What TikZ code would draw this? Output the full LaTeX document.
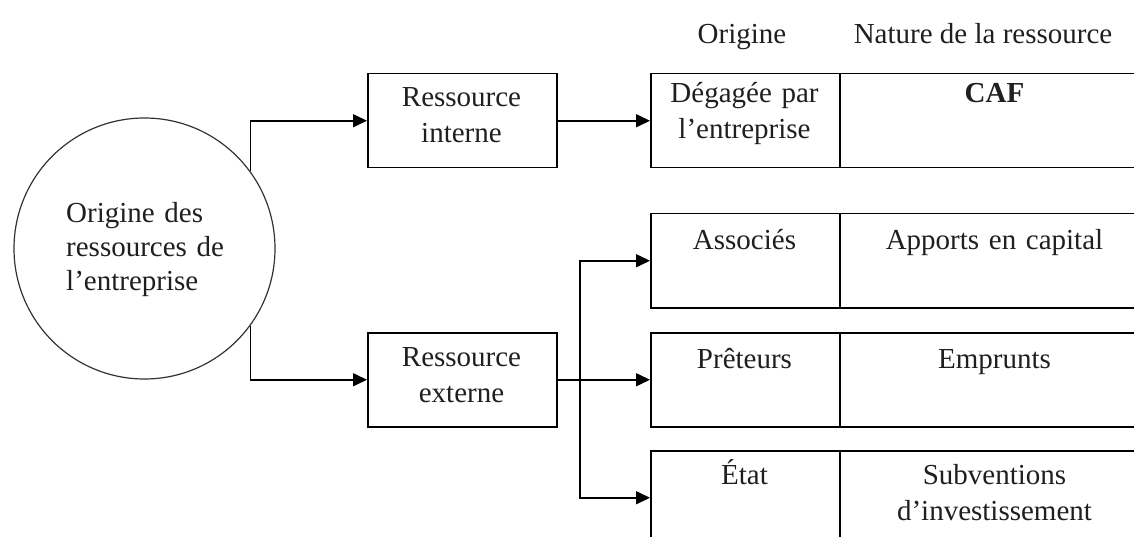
\documentclass[tikz,border=0pt]{standalone}
\usepackage{fontspec}
\setmainfont{Liberation Serif}
\usetikzlibrary{arrows.meta}
\begin{document}
\begin{tikzpicture}[x=1pt,y=-1pt,
  every node/.style={font=\fontsize{29}{36}\selectfont, text=black!88},
  cellbox/.style={draw=black, line width=1.5pt, rectangle, inner sep=0pt,
    minimum width=#1, minimum height=94pt, anchor=north west},
  txt/.style={inner sep=0pt, anchor=base, align=center, text width=#1},
  arr/.style={draw=black, line width=1.6pt, -{Triangle[length=14pt,width=13pt]}}]
\useasboundingbox (0,0) rectangle (1134,537);
\clip (0,0) rectangle (1134,537);

% central circle
\node[circle, draw=black!80, line width=1.2pt, minimum size=261pt, inner sep=0pt] (circ) at (144.5,248.5) {};
\node[inner sep=0pt, anchor=base west, align=left, text width=170pt,
      font=\fontsize{29}{33.5}\selectfont] (circtxt) at (66,223)
  {Origine\ des\\ressources\ de\\l’entreprise};

% first level boxes
\node[cellbox=189pt] (int) at (367,73) {};
\node[cellbox=189pt] (ext) at (367,332) {};
\node[txt=189pt] (inttxt) at (461.5,107) {Ressource\\interne};
\node[txt=189pt] (exttxt) at (461.5,366) {Ressource\\externe};

% column headers
\node[inner sep=0pt, anchor=base] (hdorig) at (742,44) {Origine};
\node[inner sep=0pt, anchor=base] (hdnat) at (983,44) {Nature de la ressource};

% table rows: origin cell and nature cell
\node[cellbox=189pt] (o1) at (650,73) {};
\node[cellbox=311pt] (n1) at (839,73) {};
\node[cellbox=189pt] (o2) at (650,213) {};
\node[cellbox=311pt] (n2) at (839,213) {};
\node[cellbox=189pt] (o3) at (650,332) {};
\node[cellbox=311pt] (n3) at (839,332) {};
\node[cellbox=189pt] (o4) at (650,450) {};
\node[cellbox=311pt] (n4) at (839,450) {};

\node[txt=189pt] (o1txt) at (744.5,103) {Dégagée\ par\\l’entreprise};
\node[txt=300pt] (n1txt) at (994.5,103) {\textbf{CAF}};
\node[txt=189pt] (o2txt) at (744.5,250) {Associés};
\node[txt=300pt] (n2txt) at (994.5,250) {Apports en capital};
\node[txt=189pt] (o3txt) at (744.5,368) {Prêteurs};
\node[txt=300pt] (n3txt) at (994.5,368) {Emprunts};
\node[txt=189pt] (o4txt) at (744.5,484) {État};
\node[txt=300pt] (n4txt) at (994.5,484) {Subventions\\d’investissement};

% connectors
\draw[arr] (circ.36) |- (int.west);
\draw[arr] (circ.-36) |- (ext.west);
\draw[arr] (int.east) -- (o1.west);
\draw[arr] (ext.east) -- (o3.west);
\coordinate (fork) at (580,379);
\draw[arr] (fork) |- (o2.west);
\draw[arr] (fork) |- (o4.west);
\end{tikzpicture}
\end{document}
